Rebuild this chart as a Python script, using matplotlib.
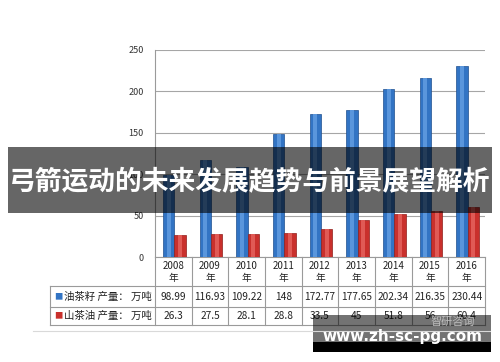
import numpy as np
import matplotlib.pyplot as plt
from matplotlib.patches import Rectangle

plt.rcParams['font.family'] = ['Noto Sans CJK SC', 'DejaVu Sans']

years = ['2008', '2009', '2010', '2011', '2012', '2013', '2014', '2015', '2016']
seed_out = [98.99, 116.93, 109.22, 148, 172.77, 177.65, 202.34, 216.35, 230.44]
oil_out = [26.3, 27.5, 28.1, 28.8, 33.5, 45, 51.8, 56, 60.4]
oil_labels = ['26.3', '27.5', '28.1', '28.8', '33.5', '45', '51.8', '56', '60.4']
seed_labels = ['98.99', '116.93', '109.22', '148', '172.77', '177.65', '202.34', '216.35', '230.44']
series_names = ['油茶籽 产量： 万吨', '山茶油 产量： 万吨']
yticks = [0, 50, 100, 150, 200, 250]
title = '弓箭运动的未来发展趋势与前景展望解析'

blue = '#3274c4'
red = '#c9302c'
grid_c = '#a6a6a6'
line_c = '#9a9a9a'

fig = plt.figure(figsize=(5, 3.62), dpi=100)
ax = fig.add_axes([0.31, 0.290, 0.66, 0.572])

x = np.arange(len(years))
w = 0.31
ax.bar(x - w / 2 + 0.03, seed_out, w, color=blue, edgecolor='#1f4f8f', linewidth=0.5, zorder=3)
ax.bar(x + w / 2 + 0.03, oil_out, w, color=red, edgecolor='#8f1f1c', linewidth=0.5, zorder=3)
# simple highlight to hint at the cylinder look
ax.bar(x - w / 2 + 0.03, seed_out, w * 0.35, color='#5a96dc', linewidth=0, zorder=4)
ax.bar(x + w / 2 + 0.03, oil_out, w * 0.35, color='#e05a55', linewidth=0, zorder=4)

ax.set_xlim(-0.5, len(years) - 0.5)
ax.set_ylim(0, 250)
ax.set_yticks(yticks)
ax.set_yticklabels([str(t) for t in yticks], fontsize=6.5, color='#333333')
ax.set_xticks([])
ax.tick_params(axis='y', length=0, pad=8)
ax.yaxis.grid(True, color=grid_c, linewidth=0.8, zorder=0)
for s in ['top', 'right']:
    ax.spines[s].set_visible(False)
ax.spines['left'].set_color(line_c)
ax.spines['bottom'].set_color(line_c)

# data table under the axes (x in data units, y in axes units)
tr = ax.get_xaxis_transform()
h_px = 207.0  # axes height in pixels
def ay(py):
    return -(py - 257) / h_px

y_top = ay(257)
y_hdr = ay(286)
y_r1 = ay(307)
y_r2 = ay(325)
left_edge = -0.5 - 105 / 36.7

lk = dict(transform=tr, color=line_c, linewidth=0.8, clip_on=False)
for i in range(len(years) + 1):
    ax.plot([i - 0.5, i - 0.5], [y_top, y_r2], **lk)
ax.plot([left_edge, left_edge], [y_hdr, y_r2], **lk)
for yy in [y_hdr, y_r1, y_r2]:
    ax.plot([left_edge, len(years) - 0.5], [yy, yy], **lk)

for i, yr in enumerate(years):
    ax.text(i, (y_top + y_hdr) / 2, yr + '\n年', transform=tr, ha='center', va='center',
            fontsize=7, color='#222222', linespacing=1.25)
    ax.text(i, (y_hdr + y_r1) / 2, seed_labels[i], transform=tr, ha='center', va='center',
            fontsize=7.3, color='#222222')
    ax.text(i, (y_r1 + y_r2) / 2, oil_labels[i], transform=tr, ha='center', va='center',
            fontsize=7.3, color='#222222')

for name, col, (ya, yb) in zip(series_names, [blue, red], [(y_hdr, y_r1), (y_r1, y_r2)]):
    ym = (ya + yb) / 2
    ax.text(left_edge + 0.1, ym, '■', transform=tr, ha='left', va='center',
            fontsize=6, color=col)
    ax.text(-0.58, ym, name, transform=tr, ha='right', va='center',
            fontsize=7.5, color='#222222')

# thin separator line at the bottom
fig.add_artist(plt.Line2D([33 / 500, 490 / 500], [1 - 331 / 362] * 2, color='#d9d9d9', linewidth=0.8))

# dark banner with title
fig.add_artist(Rectangle((8 / 500, 1 - 213 / 362), 484 / 500, 66 / 362,
                         transform=fig.transFigure, facecolor='black', alpha=0.6, linewidth=0))
fig.text(0.5, 1 - 182 / 362, title, ha='center', va='center', fontsize=19.3,
         fontweight='bold', color='white')

# watermark
fig.text(0.905, 1 - 322 / 362, '智研咨询', ha='center', va='center', fontsize=8, color='#bbbbbb')
fig.add_artist(Rectangle((313 / 500, 1 - 342 / 362), 178 / 500, 27 / 362,
                         transform=fig.transFigure, facecolor='black', alpha=0.55, linewidth=0))
fig.add_artist(Rectangle((313 / 500, 1 - 352 / 362), 178 / 500, 10 / 362,
                         transform=fig.transFigure, facecolor='black', linewidth=0))
fig.text(402 / 500, 1 - 336 / 362, 'www.zh-sc-pg.com', ha='center', va='center',
         fontsize=11, fontweight='bold', color='white', family='DejaVu Sans')

fig.savefig('out.png', dpi=100)
